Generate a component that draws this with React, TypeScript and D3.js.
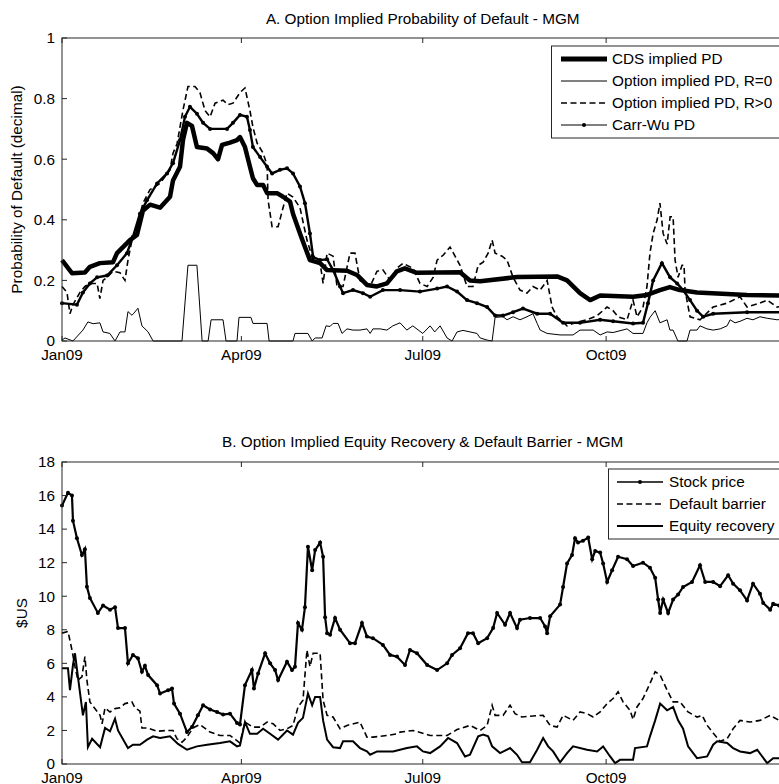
import React from 'react';
import * as d3 from 'd3';

// x values: days since 1 Jan 2009; y values
const cdsPD: [number, number][] = [
  [0, .267], [5, .224], [11.5, .226], [14, .245], [19, .257], [25.6, .26], [27.6, .29], [34.1, .333], [37.6, .35],
  [40.6, .43], [44.2, .45], [49.2, .44], [54.2, .476], [55.7, .53], [59.2, .575], [60.7, .663], [62.7, .72], [65.2, .71],
  [67.7, .64], [72.8, .635], [75.8, .62], [78.3, .6], [80.3, .647], [84.3, .655], [87.8, .663], [89.3, .673], [91.8, .64],
  [94.3, .575], [95.8, .537], [97.9, .515], [100.9, .515], [102.9, .488], [107.9, .488], [110.9, .476], [114.4, .46],
  [115.9, .42], [119.4, .355], [121.9, .31], [124.4, .267], [129.5, .257], [133, .234], [143, .232], [148, .218],
  [153, .185], [158, .18], [163, .19], [168, .23], [172, .24], [178, .225], [199.7, .227], [204.7, .2], [209.8, .197],
  [228.3, .211], [248.4, .213], [253.4, .2], [259.9, .158], [265, .135], [270, .15], [286.5, .146], [293.5, .152],
  [300, .168], [305, .178], [310, .168], [318.6, .16], [343.7, .152], [365, .15],
];

const optionPDR0: [number, number][] = [
  [0, .003], [1.5, .01], [5.5, 0], [10.5, .036], [13, .063], [15.6, .057], [19, .06], [20.6, .03], [24, .025], [26.6, 0],
  [29.1, .03], [31.6, .03], [33.1, .097], [35.1, .085], [36.1, .092], [38.1, .108], [40.1, .05], [43.2, .03], [45.7, 0],
  [60.2, 0], [63.2, .25], [67.7, .25], [70.3, 0], [73.3, 0], [74.8, .07], [80.8, .07], [82.3, 0], [87.8, 0], [88.8, .078],
  [94.8, .078], [95.8, .058], [102.9, .058], [103.9, 0], [115.9, 0], [116.9, .025], [123.4, .025], [125.5, 0], [127, .01],
  [130.5, .01], [132.5, .05], [134.5, .048], [136, .058], [138.5, .058], [140.5, .025], [143, .04], [146, .036],
  [149.5, .036], [153, .04], [154.6, .025], [156, .04], [159.6, .04], [163, .036], [166, .05], [169.6, .06], [173, .036],
  [176, .05], [181, .025], [184.7, .05], [187, .03], [189.7, .05], [193.2, .01], [195.7, 0], [198.2, .03], [201.2, .035],
  [204.7, .03], [208.2, .025], [209.8, .01], [213.3, .003], [215.8, 0], [217.3, .078], [221.3, .08], [223.3, .07],
  [226.3, .08], [229.8, .07], [233.3, .08], [236.3, .09], [238.4, .058], [239.9, .036], [243.4, .025], [249.9, .02],
  [256.4, .02], [259.9, .036], [266.5, .036], [270, .02], [273.5, .03], [276.5, .028], [283.5, .04], [286.5, .025],
  [291.5, .025], [293.5, .06], [295, .078], [297.6, .1], [300, .06], [303.6, .07], [305, .036], [306.6, .036], [309, 0],
  [313.6, 0], [315.1, .036], [318.6, .036], [320.1, .05], [323.6, .04], [326.7, .036], [330.2, .04], [333.7, .05],
  [335.2, .07], [337.7, .06], [340.2, .065], [343.7, .075], [346.7, .07], [350.2, .08], [353.8, .075], [358.8, .07],
  [365.3, .075],
];

const optionPDR1: [number, number][] = [
  [0, .18], [2.5, .16], [4, .09], [5.5, .12], [9, .16], [11.5, .18], [14, .19], [17.6, .19], [19, .14], [20.6, .2],
  [22.6, .21], [25.6, .23], [29.1, .225], [31.6, .2], [33.1, .267], [35.1, .333], [37.6, .377], [40.6, .455], [44.2, .5],
  [49.2, .52], [54.2, .565], [55.7, .62], [57.7, .65], [60.7, .762], [63.2, .84], [66.7, .84], [69.2, .82], [71.8, .76],
  [74.3, .74], [76.8, .785], [80.8, .795], [83.3, .78], [85.8, .785], [89.3, .82], [91.8, .835], [94.3, .76], [95.8, .706],
  [97.9, .653], [100.9, .62], [102.9, .58], [103.4, .465], [105.4, .377], [108.4, .377], [110.9, .44], [112.9, .488],
  [115.9, .475], [119.4, .44], [122.9, .333], [126, .267], [129.5, .257], [131, .19], [133, .29], [136, .28], [138, .18],
  [141, .18], [144.5, .29], [147, .29], [149.5, .2], [154.6, .18], [158, .23], [161, .235], [164.6, .2], [168, .24],
  [171.1, .256], [176.1, .24], [179.6, .19], [183.2, .18], [186.2, .21], [188.2, .267], [191.2, .283], [194.7, .31],
  [197.2, .28], [199.7, .25], [203.2, .18], [206.2, .18], [208.8, .25], [211.3, .26], [213.8, .29], [215.8, .333],
  [217.3, .29], [220.8, .28], [223.3, .267], [226.3, .21], [229.8, .168], [233.3, .158], [236.3, .18], [239.9, .168],
  [243.4, .2], [245.9, .112], [248.4, .08], [253.4, .05], [256.4, .058], [263.4, .07], [268.5, .084], [273.5, .112],
  [276.5, .1], [279, .08], [283.5, .07], [286.5, .135], [288.5, .08], [291.5, .112], [293.5, .18], [295, .29],
  [296.6, .355], [298.6, .4], [300, .455], [301.6, .355], [303.6, .32], [305.1, .41], [306.6, .41], [307.6, .267],
  [309.1, .21], [311.1, .25], [312.1, .25], [312.6, .168], [315.1, .08], [320.1, .07], [326.7, .112], [333.7, .125],
  [340.2, .146], [343.7, .112], [350.2, .125], [353.8, .135], [358.8, .112], [365.3, .12],
];

const carrWuPD: [number, number][] = [
  [0, .125], [7.5, .12], [10.5, .16], [14, .19], [17.6, .21], [22.6, .216], [27.6, .25], [32.6, .29], [35.6, .344],
  [39.1, .42], [42.7, .465], [47.7, .52], [52.7, .553], [55.7, .587], [59.2, .663], [61.7, .74], [64.2, .773], [67.7, .75],
  [70.8, .72], [74.3, .7], [82.8, .7], [85.8, .72], [89.3, .746], [92.8, .74], [94.3, .696], [95.8, .64], [99.4, .607],
  [102.9, .575], [105.4, .553], [109.4, .565], [112.9, .57], [115.9, .553], [119.4, .51], [121.9, .455], [124.4, .355],
  [126, .277], [129.5, .267], [133, .27], [136, .234], [139.5, .18], [141, .158], [146, .168], [151, .158], [154.6, .146],
  [161, .168], [169.6, .168], [179.6, .163], [188.2, .173], [193.2, .18], [198.2, .163], [203.2, .135], [208.2, .125],
  [213.3, .112], [217.3, .084], [221.3, .084], [226.3, .095], [231.3, .107], [238.4, .09], [244.9, .09], [251.4, .06],
  [259.9, .06], [270, .07], [276.5, .065], [286.5, .058], [291.5, .06], [294, .125], [296.6, .2], [301, .257],
  [305.1, .21], [308.6, .19], [311.6, .168], [315.1, .135], [318.6, .1], [321.7, .08], [326.7, .09], [343.7, .095],
  [365.3, .095],
];

const stockPrice: [number, number][] = [
  [0, 15.4], [3, 16.17], [5, 16], [5.5, 14.5], [7.5, 13.45], [10, 12.45], [11.5, 12.8], [12.5, 10.56], [14, 9.9],
  [18, 9], [20.6, 9.45], [24.1, 9.2], [26.6, 9.35], [28.1, 8.1], [31.6, 8.1], [33.1, 6], [35.6, 6.5], [38.1, 6.3],
  [40.1, 5.5], [41.6, 5.85], [43.2, 5.3], [47.7, 4.7], [49.2, 4.2], [53.2, 4.4], [55.2, 4.5], [56.2, 3.6], [59.2, 3],
  [62.7, 1.9], [65.2, 2.2], [68.2, 2.9], [70.8, 3.5], [74.3, 3.25], [77.8, 3.1], [80.8, 2.95], [84.3, 3], [87.8, 2.45],
  [89.3, 2.35], [91.8, 4.7], [95.3, 5.6], [96.3, 4.5], [98.4, 5.4], [101.9, 6.6], [104.4, 6], [106.9, 5.6], [108.4, 5],
  [112.9, 6.1], [115.4, 5.6], [116.9, 5.8], [118.4, 8.4], [120.4, 8], [121.9, 9.35], [123.4, 12.95], [125.5, 11.55],
  [127, 12.75], [129.5, 13.2], [131, 12.35], [132, 8.75], [133, 7.8], [134.5, 7.7], [137, 8.7], [139.5, 8],
  [144.5, 7.2], [147, 7.2], [150.5, 8.4], [153, 7.6], [156, 7.5], [161, 7.1], [164.6, 6.5], [168.1, 6.4], [172.1, 5.9],
  [174.6, 6.8], [178.1, 6.6], [183.2, 5.9], [188.2, 5.6], [193.2, 6], [195.7, 6.5], [199.7, 6.9], [203.7, 7.8],
  [206.2, 7.8], [208.8, 7.2], [213.3, 7.5], [216.3, 8.1], [218.3, 9], [222.3, 8.3], [224.8, 9], [228.3, 8.1],
  [229.8, 8.6], [234.8, 8.7], [239.9, 8.7], [242.4, 8.2], [243.4, 7.8], [244.9, 8.8], [249.9, 9.5], [251.4, 10.55],
  [253.4, 11.95], [255.9, 12.45], [257.4, 13.45], [258.9, 13.2], [261.4, 13.3], [264, 13.5], [266, 12.2], [267.5, 12.7],
  [270, 12.6], [271.5, 11.95], [273.5, 10.85], [276, 11.55], [279, 12.35], [283.5, 12.2], [286.5, 11.8], [291.5, 12],
  [295, 11.7], [297.6, 11.1], [299.1, 9.8], [300.1, 9], [301.6, 9.8], [304.1, 9], [306.6, 9.8], [309.1, 10.1],
  [311.6, 10.55], [316.1, 10.85], [320.1, 11.85], [322.7, 10.85], [326.7, 10.85], [330.2, 10.6], [334.2, 11.25],
  [336.7, 10.75], [340.2, 10.35], [343.7, 9.75], [346.7, 10.75], [350.2, 10.15], [351.8, 9.6], [355.3, 9.2],
  [356.8, 9.55], [359.8, 9.45], [365.3, 9.3],
];

const defaultBarrier: [number, number][] = [
  [0, 7.8], [3, 7.9], [5, 6.8], [6.5, 5.8], [8, 5], [10, 5.2], [11.5, 6.4], [12.5, 5], [14, 3.7], [19.1, 2.9],
  [20.1, 2.4], [21.6, 3.35], [24.1, 3.1], [26.6, 3.3], [29.1, 3.35], [31.6, 3.6], [35.1, 3.7], [36.6, 3.35], [39.1, 3.15],
  [40.1, 2.15], [42.7, 2.15], [47.7, 1.95], [52.7, 2], [55.7, 2], [57.7, 1.5], [60.2, 1.3], [62.7, 1.6], [65.7, 2.15],
  [69.2, 2.35], [74.3, 1.9], [79.3, 1.7], [84.3, 1.7], [89.3, 1.25], [91.8, 2.5], [95.8, 2.2], [99.4, 2.2], [102.9, 2.5],
  [105.9, 2.4], [109.4, 2], [112.9, 2.1], [115.9, 2.3], [118.4, 3.4], [120.9, 3.8], [122.9, 6.8], [124.4, 5.8],
  [126, 6.6], [129.5, 6.6], [131, 3.8], [133, 2.9], [136, 2.8], [139.5, 2.1], [143, 2.3], [149.5, 2.5], [153, 1.6],
  [156, 1.6], [163, 1.7], [168.1, 1.8], [169.6, 1.9], [176.1, 2], [184.7, 1.7], [193.2, 1.7], [198.2, 2.05],
  [204.7, 2.3], [209.8, 2], [213.3, 2.3], [215.8, 3.5], [217.3, 2.9], [221.3, 2.9], [224.8, 3.5], [227.3, 3],
  [230.8, 2.8], [234.8, 2.85], [241.4, 2.9], [244.9, 2.3], [248.4, 2.2], [251.4, 2.9], [256.4, 2.6], [259.9, 3.1],
  [263.4, 3], [266.5, 2.8], [270, 3.1], [273.5, 3.6], [276.5, 3.9], [279, 4.3], [281.5, 3.7], [285, 3.2], [286.5, 2.65],
  [288.5, 3.4], [291.5, 3.9], [295, 4.8], [297.6, 5.5], [300.1, 5.3], [303.6, 4.4], [306.6, 3.7], [310.1, 3.7],
  [314.1, 3.1], [318.6, 2.8], [321.2, 2.9], [323.7, 2.3], [326.7, 1.85], [330.2, 1.35], [333.7, 1.5], [336.7, 2.1],
  [340.2, 2.6], [345.2, 2.5], [350.2, 2.6], [355.3, 2.9], [359.8, 2.6], [365.3, 2.6],
];

const equityRecovery: [number, number][] = [
  [0, 5.7], [3, 5.7], [4, 4.4], [5.5, 5.9], [6.5, 6.6], [8, 5.2], [10.5, 2.9], [12, 3.7], [13, 1], [15.1, 1.5],
  [19.1, 1], [21.6, 2.15], [24.1, 1.95], [26.6, 2.7], [28.1, 2], [33.1, 0.95], [35.6, 1.15], [39.1, 1.15], [42.7, 1.45],
  [45.7, 1.65], [49.2, 1.55], [54.2, 1.65], [58.2, 1.2], [62.7, 0.85], [67.7, 1.05], [72.8, 1.15], [79.3, 1.25],
  [84.3, 1.35], [87.8, 1.05], [89.3, 1.1], [91.8, 2.5], [94.3, 1.8], [97.9, 1.8], [100.9, 2.1], [104.4, 1.8],
  [108.4, 1.45], [112.9, 2], [115.9, 1.75], [118.4, 2.45], [120.9, 2.75], [123.4, 4.2], [125.5, 3.5], [127, 4],
  [129.5, 4], [131, 2.6], [133, 1.45], [136, 1], [139.5, 0.95], [141, 1.35], [146, 1.35], [149.5, 0.95], [153, 0.75],
  [154.6, 0.55], [158.1, 0.75], [166.1, 0.75], [173.1, 0.95], [178.1, 1.05], [181.1, 0.75], [184.7, 0.65],
  [189.7, 1.05], [193.7, 1.55], [198.2, 1.25], [202.2, 0.45], [204.7, 0.55], [208.8, 1.65], [211.3, 1.75],
  [213.8, 1.65], [215.8, 1.05], [219.8, 0.65], [224.8, 0.95], [228.3, 0.55], [230.8, 0.1], [234.8, 0.1], [238.4, 0.85],
  [241.4, 1.55], [243.9, 1.05], [246.4, 0.75], [249.9, 0.1], [253.4, 0.65], [256.4, 1.05], [263.4, 0.85], [268.5, 0.75],
  [271.5, 1.05], [275, 0.45], [277.5, 0.05], [280, 0.25], [286.5, 0.25], [287.5, 0.95], [293.5, 1.05], [295, 1.65],
  [297.6, 2.6], [300.1, 3.6], [303.6, 3.2], [306.6, 3.4], [309.1, 2.6], [311.6, 2.1], [314.1, 1.05], [318.6, 0.35],
  [323.7, 0.45], [326.7, 1.15], [328.7, 1.35], [333.7, 1.25], [336.7, 0.95], [340.2, 0.75], [345.2, 0.65],
  [348.8, 0.85], [353.8, 0.05], [356.8, 0.35], [365.3, 0.35],
];

const pdTicks = [0, 0.2, 0.4, 0.6, 0.8, 1];
const usdTicks = [0, 2, 4, 6, 8, 10, 12, 14, 16, 18];
const legendA = ['CDS implied PD', 'Option implied PD, R=0', 'Option implied PD, R>0', 'Carr-Wu PD'];
const legendB = ['Stock price', 'Default barrier', 'Equity recovery'];

const FONT = "'Liberation Sans', Arial, sans-serif";
const FS = 15.3;
const AX = '#262626';
const T0 = Date.UTC(2009, 0, 1);
const toDate = (d: number) => new Date(T0 + d * 86400000);

const x = d3.scaleUtc().domain([new Date(Date.UTC(2009, 0, 1)), new Date(Date.UTC(2009, 11, 31))]).range([62, 787.5]);
const xTicks = x.ticks(d3.utcMonth.every(3) as any);
const fmt = d3.utcFormat('%b%y');

const L = 62, R = 787.5;

function Frame({ y, ticks, top, bottom, tickFmt, labelGap }: any) {
  return (
    <g>
      <rect x={L} y={top} width={R - L} height={bottom - top} fill="none" stroke={AX} strokeWidth={1} />
      {ticks.map((t: number, i: number) => (
        <g key={'y' + i}>
          <line x1={L} x2={L + 5} y1={y(t)} y2={y(t)} stroke={AX} />
          <line x1={R} x2={R - 5} y1={y(t)} y2={y(t)} stroke={AX} />
          <text x={55} y={y(t)} dy="0.35em" textAnchor="end" fontSize={FS} fontFamily={FONT} fill="#000">{tickFmt(t)}</text>
        </g>
      ))}
      {xTicks.map((t: Date, i: number) => (
        <g key={'x' + i}>
          <line x1={x(t)} x2={x(t)} y1={top} y2={top + 5} stroke={AX} />
          <line x1={x(t)} x2={x(t)} y1={bottom} y2={bottom - 5} stroke={AX} />
          <text x={x(t)} y={bottom + labelGap} textAnchor="middle" fontSize={FS} fontFamily={FONT} fill="#000">{fmt(t)}</text>
        </g>
      ))}
    </g>
  );
}

export default function App() {
  const yA = d3.scaleLinear().domain([0, 1]).range([341, 38]);
  const yB = d3.scaleLinear().domain([0, 18]).range([764, 462]);
  const lineA = d3.line<[number, number]>().x(d => x(toDate(d[0]))).y(d => yA(d[1]));
  const lineB = d3.line<[number, number]>().x(d => x(toDate(d[0]))).y(d => yB(d[1]));
  const dash = '6,3.5';

  const legendAStyles = [
    { w: 5, dash: undefined, marker: false },
    { w: 1, dash: undefined, marker: false },
    { w: 1.6, dash, marker: false },
    { w: 1, dash: undefined, marker: true },
  ];
  const legendBStyles = [
    { w: 1.6, dash: undefined, marker: true },
    { w: 1.6, dash, marker: false },
    { w: 2, dash: undefined, marker: false },
  ];
  const rowsA = [59, 81, 103, 125];
  const rowsB = [482, 504, 526];

  return (
    <svg width={779} height={784} style={{ position: 'absolute', left: 0, top: 0, background: '#fff' }}>
      <rect x={0} y={0} width={779} height={784} fill="#fff" />
      {/* Panel A */}
      <text x={(L + R) / 2 - 2} y={24} textAnchor="middle" fontSize={FS} fontFamily={FONT}>A. Option Implied Probability of Default - MGM</text>
      <text transform={`translate(22,${(38 + 341) / 2}) rotate(-90)`} textAnchor="middle" fontSize={FS} fontFamily={FONT}>Probability of Default (decimal)</text>
      <path d={lineA(optionPDR0) || ''} fill="none" stroke="#000" strokeWidth={1} />
      <path d={lineA(optionPDR1) || ''} fill="none" stroke="#000" strokeWidth={1.6} strokeDasharray={dash} />
      <path d={lineA(carrWuPD) || ''} fill="none" stroke="#000" strokeWidth={2.4} />
      {carrWuPD.map((d, i) => <circle key={'cw' + i} cx={x(toDate(d[0]))} cy={yA(d[1])} r={2} fill="#000" />)}
      <path d={lineA(cdsPD) || ''} fill="none" stroke="#000" strokeWidth={4.5} strokeLinejoin="round" />
      <Frame y={yA} ticks={pdTicks} top={38} bottom={341} tickFmt={(t: number) => String(t)} labelGap={19} />
      <rect x={551.5} y={46} width={240} height={92} fill="#fff" stroke={AX} />
      {legendA.map((s, i) => (
        <g key={'la' + i}>
          <line x1={561} x2={607} y1={rowsA[i]} y2={rowsA[i]} stroke="#000" strokeWidth={legendAStyles[i].w} strokeDasharray={legendAStyles[i].dash} />
          {legendAStyles[i].marker && <circle cx={584} cy={rowsA[i]} r={2} fill="#000" />}
          <text x={612} y={rowsA[i]} dy="0.35em" fontSize={FS} fontFamily={FONT}>{s}</text>
        </g>
      ))}

      {/* Panel B */}
      <text x={(L + R) / 2 - 2} y={447} textAnchor="middle" fontSize={FS} fontFamily={FONT}>B. Option Implied Equity Recovery &amp; Default Barrier - MGM</text>
      <text transform={`translate(27,${(462 + 764) / 2}) rotate(-90)`} textAnchor="middle" fontSize={FS} fontFamily={FONT}>$US</text>
      <path d={lineB(defaultBarrier) || ''} fill="none" stroke="#000" strokeWidth={1.6} strokeDasharray={dash} />
      <path d={lineB(equityRecovery) || ''} fill="none" stroke="#000" strokeWidth={2} />
      <path d={lineB(stockPrice) || ''} fill="none" stroke="#000" strokeWidth={2.2} />
      {stockPrice.map((d, i) => <circle key={'sp' + i} cx={x(toDate(d[0]))} cy={yB(d[1])} r={2} fill="#000" />)}
      <Frame y={yB} ticks={usdTicks} top={462} bottom={764} tickFmt={(t: number) => String(t)} labelGap={19} />
      <rect x={608.5} y={469} width={200} height={70} fill="#fff" stroke={AX} />
      {legendB.map((s, i) => (
        <g key={'lb' + i}>
          <line x1={617} x2={663} y1={rowsB[i]} y2={rowsB[i]} stroke="#000" strokeWidth={legendBStyles[i].w} strokeDasharray={legendBStyles[i].dash} />
          {legendBStyles[i].marker && <circle cx={640} cy={rowsB[i]} r={2} fill="#000" />}
          <text x={669} y={rowsB[i]} dy="0.35em" fontSize={FS} fontFamily={FONT}>{s}</text>
        </g>
      ))}
    </svg>
  );
}
